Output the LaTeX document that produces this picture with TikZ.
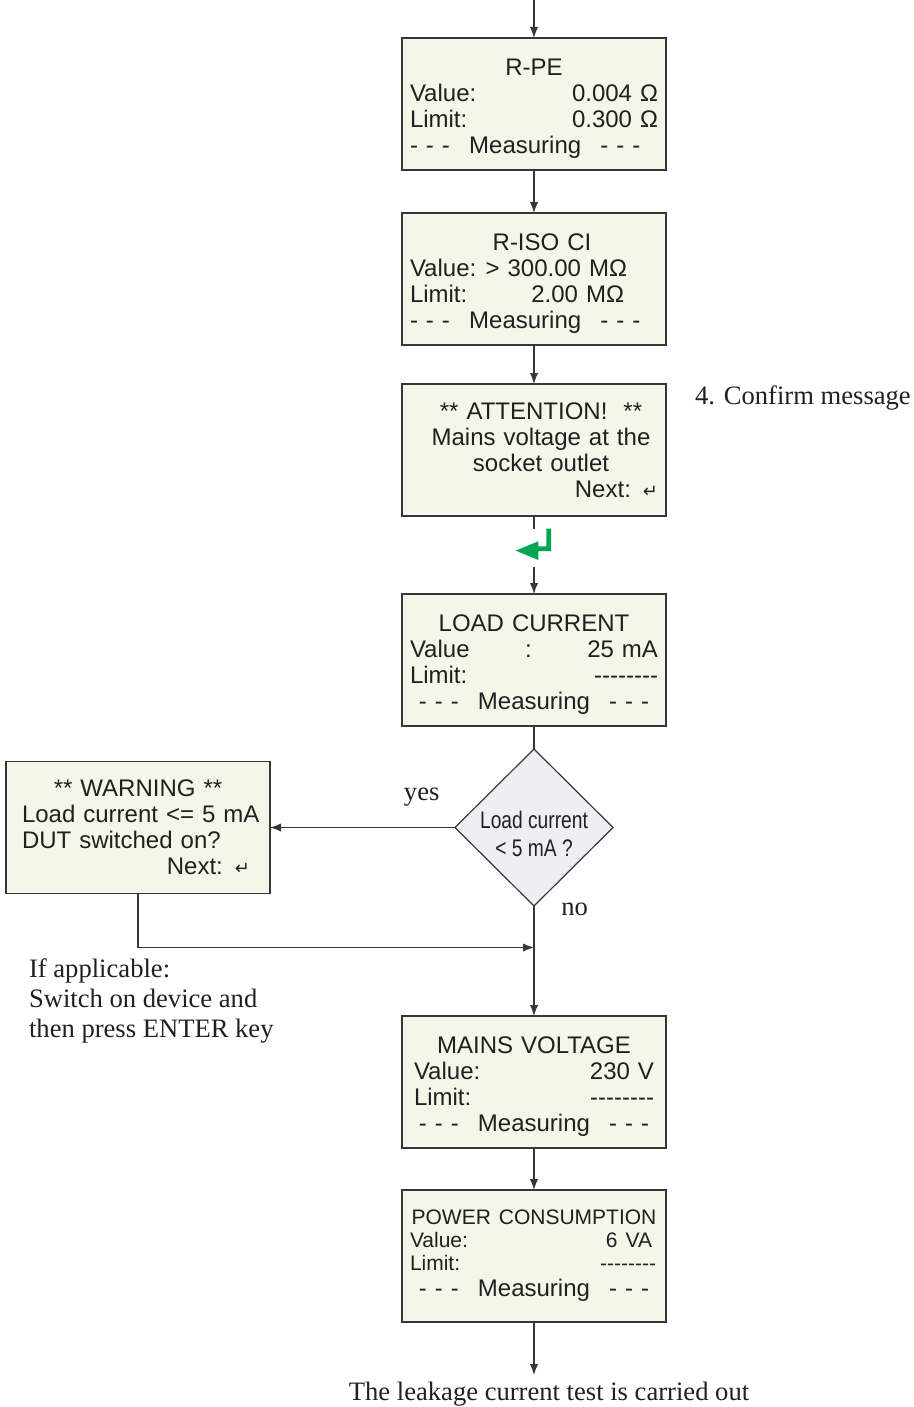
\documentclass[tikz,border=0pt]{standalone}
\usepackage{fontspec}
\setmainfont{Liberation Serif}
\setsansfont{Liberation Sans}
\newfontfamily\narrowfont{Liberation Sans}[FakeStretch=0.8]
\newfontfamily\symfont{DejaVu Sans}
\usetikzlibrary{shapes.geometric,arrows.meta,positioning,calc}
\definecolor{lcdFill}{RGB}{243,246,232}
\definecolor{lcdDraw}{RGB}{55,55,55}
\definecolor{decFill}{RGB}{238,238,243}
\definecolor{keyGreen}{RGB}{0,166,81}
\definecolor{txt}{RGB}{35,31,32}
\newcommand{\enterkey}{{\symfont\fontsize{9}{10}\selectfont ↵}}
\newcommand{\nolimit}{-\kern0pt-\kern0pt-\kern0pt-\kern0pt-\kern0pt-\kern0pt-\kern0pt-}
\newcommand{\measuring}{- - -\hspace{0.8em}Measuring\hspace{0.8em}- - -}
\newcommand{\lcdstrut}{\rule{0pt}{13pt}}

\begin{document}
\begin{tikzpicture}[
    lcd/.style={rectangle, draw=lcdDraw, fill=lcdFill, line width=0.6pt, outer sep=0pt, minimum width=132pt, minimum height=66pt, inner sep=0pt, text width=#1, align=center, text=txt, font=\sffamily\fontsize{12}{13}\selectfont},
    lcd/.default=124pt,
    decision/.style={diamond, aspect=1, draw=lcdDraw, fill=decFill, line width=0.6pt, outer sep=0pt, minimum width=79pt, minimum height=78.5pt, inner sep=0pt, align=center, text=txt, font=\narrowfont\fontsize{12}{14}\selectfont},
    note/.style={align=left, text=txt, font=\rmfamily\fontsize{13.3}{15}\selectfont},
    link/.style={line width=0.6pt, draw=lcdDraw},
    arr/.style={link, -{Latex[length=5.5pt,width=4.2pt]}}
]
\useasboundingbox (0,0) rectangle (457pt,-703.5pt);

% display screens
\node[lcd] (rpe) at (267pt,-52pt) {\lcdstrut R-PE\\ Value:\hfill 0.004 Ω\\ Limit:\hfill 0.300 Ω\\ \measuring\hfill\mbox{}};
\node[lcd, below=21.5pt of rpe] (riso) {\lcdstrut\hspace*{8pt}R-ISO CI\\ Value:\hfill > 300.00 MΩ\hspace*{15.5pt}\mbox{}\\ Limit:\hfill 2.00 MΩ\hspace*{17pt}\mbox{}\\ \measuring\hfill\mbox{}};
\node[lcd, below=19.5pt of riso] (att) {\hspace*{7pt}** ATTENTION!\ \ **\\ \hspace*{7pt}Mains voltage at the\\ \hspace*{7pt}socket outlet\\ \hfill Next: \enterkey};
\node[below=6.5pt of att, minimum width=18pt, minimum height=19pt, inner sep=0pt, outer sep=0pt] (enter) {};
\node[lcd, below=13.5pt of enter] (ld) {\lcdstrut LOAD CURRENT\\ Value\hfill:\hfill 25 mA\\ Limit:\hfill\nolimit\\ \measuring};
\node[decision, below=11.5pt of ld] (dec) {\rule{0pt}{15pt}\makebox[40pt]{Load current}\\ \makebox[40pt]{< 5 mA ?}};
\node[lcd=116pt, left=92.5pt of dec] (warn) {** WARNING **\\ \mbox{Load current <= 5 mA}\\ DUT switched on?\hfill\mbox{}\\ \hfill Next: \enterkey\hspace*{2pt}\mbox{}};
\node[lcd=120pt, below=55pt of dec] (mv) {\lcdstrut MAINS VOLTAGE\\ Value:\hfill 230 V\\ Limit:\hfill\nolimit\\ \measuring};
\node[lcd=124pt, below=21pt of mv] (pc) {{\fontsize{10.5}{11.5}\selectfont \mbox{POWER CONSUMPTION}\\ Value:\hfill 6 VA\hspace*{3pt}\mbox{}\\ Limit:\hfill\nolimit\hspace*{1pt}\mbox{}\\}\measuring};

% notes
\node[note, right=11pt of att.north east, yshift=-7pt] (confirm) {4. Confirm message};
\node[note, below=29pt of warn.south west, anchor=north west, xshift=8pt] (hint) {If applicable:\\ Switch on device and\\ then press ENTER key};
\node[note, below=26.5pt of pc, xshift=7.5pt] (done) {The leakage current test is carried out};

% enter key
\fill[keyGreen, shift={(enter.center)}] (6.15pt,9.65pt) -- (8.6pt,9.65pt) -- (8.6pt,-1.6pt) -- (2.15pt,-1.6pt) -- (2.15pt,-6pt) -- (-9.15pt,-1.3pt) -- (2.15pt,3.35pt) -- (2.15pt,0.85pt) -- (6.15pt,0.85pt) -- cycle;

\coordinate[above=19pt of rpe] (start);
\coordinate[below=27pt of warn.south] (bend);

\draw[arr] (start) -- (rpe);
\draw[arr] (rpe) -- (riso);
\draw[arr] (riso) -- (att);
\draw[link] (att) -- (enter);
\draw[arr] (enter) -- (ld);
\draw[link] (ld) -- (dec);
\draw[arr] (dec) -- (warn) node[note, pos=0.18, above=7pt] {yes};
\draw[arr] (dec) -- (mv) node[note, pos=0.03, right=10pt] {no};
\draw[arr] (warn) -- (bend) -- (bend -| dec);
\draw[arr] (mv) -- (pc);
\draw[arr] (pc) -- (pc |- done.north);
\end{tikzpicture}
\end{document}
